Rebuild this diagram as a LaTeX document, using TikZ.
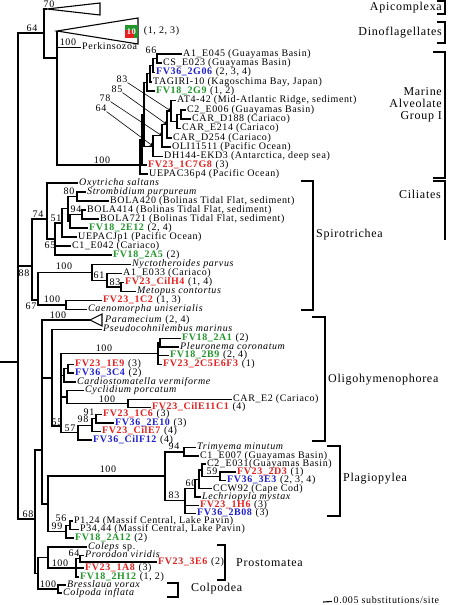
\documentclass[tikz,border=0pt]{standalone}
\usepackage{fontspec}
\setmainfont{Liberation Serif}[LetterSpace=6]
\usetikzlibrary{positioning}
\definecolor{fvred}{RGB}{228,32,32}
\definecolor{fvblue}{RGB}{32,32,210}
\definecolor{fvgreen}{RGB}{34,150,44}
\newcommand{\leaffont}{\fontsize{10}{10}\selectfont}
\newcommand{\grpfont}{\fontsize{12}{12}\selectfont}
\newcommand{\fvr}[1]{\textcolor{fvred}{\textbf{#1}}}
\newcommand{\fvb}[1]{\textcolor{fvblue}{\textbf{#1}}}
\newcommand{\fvg}[1]{\textcolor{fvgreen}{\textbf{#1}}}
\newcommand{\taxon}[1]{\textit{#1}}

\begin{document}
\begin{tikzpicture}[x=1pt,y=-1pt]
  \tikzset{
    br/.style={line width=1.1pt, every edge/.style={draw, line width=1.1pt, to path={|- (\tikztotarget)}}},
    leaf/.style={anchor=west, inner xsep=1.5pt, inner ysep=0pt, text height=6.5pt, text depth=2pt, font=\leaffont},
    bs/.style={inner sep=0pt, font=\leaffont},
    grp/.style={inner sep=0pt, font=\grpfont},
    clade/.style={line width=1.1pt},
    pointer/.style={->, >=stealth, line width=0.6pt}
  }
  \useasboundingbox (0,0) rectangle (448,605);

  % backbone and alveolates
  \coordinate (rootstub) at (0,362);
  \coordinate (nRoot) at (18,362);
  \coordinate (n64) at (44,33);
  \coordinate (apiA) at (47,9);
  \coordinate (apiT) at (100,3);
  \coordinate (apiB) at (100,15);
  \coordinate (nDPM) at (57,58);
  \coordinate (dinoA) at (57,31);
  \coordinate (dinoT) at (138,18);
  \coordinate (dinoB) at (138,44);
  \draw[clade] (apiA) -- (apiT) -- (apiB) -- cycle;
  \draw[clade] (dinoA) -- (dinoT) -- (dinoB) -- cycle;
  \fill[fvgreen] (125,25) rectangle (138,38);
  \fill[fvred] (125,30) rectangle (134,38);
  \node[inner sep=0pt, font=\fontsize{8.5}{8.5}\selectfont\bfseries, text=white] (dinobox) at (131.5,31.5) {10};
  \node[leaf] (dinoreps) [right=6pt of dinobox] {(1, 2, 3)};
  \node[leaf] (perk) at (80.5,47.5) {Perkinsozoa};

  % Marine Alveolate Group I
  \coordinate (m0) at (140,165);
  \coordinate (m1) at (142,139.6);
  \coordinate (nAB) at (144,114.3);
  \coordinate (nA4) at (147,82.4);
  \coordinate (nA3) at (150,73.8);
  \coordinate (nA2) at (153,65.5);
  \coordinate (nA1) at (157,58.5);
  \coordinate (nB6) at (153,146.1);
  \coordinate (nB5) at (162,135.8);
  \coordinate (nB4) at (167,124.5);
  \coordinate (nB3) at (171,111);
  \coordinate (nB2) at (177,121.5);
  \coordinate (nB1) at (181,114.5);
  \node[leaf] (a1e045) at (181.5,54) {A1\_E045 (Guayamas Basin)};
  \node[leaf] (cse023) at (161.5,63) {CS\_E023 (Guayamas Basin)};
  \node[leaf] (fv36g06) at (154.5,72.5) {\fvb{FV36\_2G06} (2, 3, 4)};
  \node[leaf] (tagiri) at (151.5,82) {TAGIRI-10 (Kagoschima Bay, Japan)};
  \node[leaf] (fv18g9) at (154.5,91) {\fvg{FV18\_2G9} (1, 2)};
  \node[leaf] (at442) at (175.5,100.5) {AT4-42 (Mid-Atlantic Ridge, sediment)};
  \node[leaf] (c2e006) at (185.5,110) {C2\_E006 (Guayamas Basin)};
  \node[leaf] (card188) at (190.5,119) {CAR\_D188 (Cariaco)};
  \node[leaf] (care214) at (180.5,128.5) {CAR\_E214 (Cariaco)};
  \node[leaf] (card254) at (171.5,138) {CAR\_D254 (Cariaco)};
  \node[leaf] (oli) at (170.5,147) {OLI11511 (Pacific Ocean)};
  \node[leaf] (dh144) at (162.5,156.5) {DH144-EKD3 (Antarctica, deep sea)};
  \node[leaf] (fv23c7) at (146.5,165) {\fvr{FV23\_1C7G8} (3)};
  \node[leaf] (uepac36) at (147.5,174) {UEPAC36p4 (Pacific Ocean)};

  % Spirotrichea and Armophorea
  \coordinate (n88) at (32,266);
  \coordinate (n74) at (47,219);
  \coordinate (n65) at (55,239);
  \coordinate (n51) at (62,223);
  \coordinate (nP) at (68,208.9);
  \coordinate (n80) at (77,196.5);
  \coordinate (nR) at (70,221.3);
  \coordinate (n94s) at (82,214.5);
  \coordinate (n67) at (38,300);
  \coordinate (n100a) at (92,272.3);
  \coordinate (n61) at (107,280.1);
  \coordinate (n83a) at (121,287);
  \coordinate (n100b) at (66,305);
  \node[leaf] (oxy) at (77.5,183) {\taxon{Oxytricha saltans}};
  \node[leaf] (strom) at (85.5,192) {\taxon{Strombidium purpureum}};
  \node[leaf] (bola420) at (108.5,201) {BOLA420 (Bolinas Tidal Flat, sediment)};
  \node[leaf] (bola414) at (85.5,210) {BOLA414 (Bolinas Tidal Flat, sediment)};
  \node[leaf] (bola721) at (98.5,219) {BOLA721 (Bolinas Tidal Flat, sediment)};
  \node[leaf] (fv18e12) at (87.5,228) {\fvg{FV18\_2E12} (2, 4)};
  \node[leaf] (uepacj) at (76.5,237) {UEPACJp1 (Pacific Ocean)};
  \node[leaf] (c1e042) at (70.5,246) {C1\_E042 (Cariaco)};
  \node[leaf] (fv18a5) at (111.5,255) {\fvg{FV18\_2A5} (2)};
  \node[leaf] (nyct) at (130.5,264.5) {\taxon{Nyctotheroides parvus}};
  \node[leaf] (a1e033) at (121.5,273.5) {A1\_E033 (Cariaco)};
  \node[leaf] (fv23h4) at (123.5,282.5) {\fvr{FV23\_CilH4} (1, 4)};
  \node[leaf] (metop) at (135.5,291.5) {\taxon{Metopus contortus}};
  \node[leaf] (fv23c2) at (101.5,300.5) {\fvr{FV23\_1C2} (1, 3)};
  \node[leaf] (caeno) at (86.5,309.5) {\taxon{Caenomorpha uniserialis}};

  % Oligohymenophorea
  \coordinate (n68) at (35,519);
  \coordinate (nOP) at (42,450);
  \coordinate (parA) at (90,320);
  \coordinate (parT) at (102,314);
  \coordinate (parB) at (102,326);
  \coordinate (nOlA) at (52,378);
  \coordinate (nOlB) at (61,426);
  \coordinate (n100d) at (158,353.6);
  \coordinate (nPl) at (160,342.8);
  \coordinate (nCar) at (64,375.4);
  \coordinate (nCar1) at (68,368.8);
  \coordinate (ncyc) at (67,397);
  \coordinate (n100c) at (128,403.5);
  \coordinate (n57) at (78,432.5);
  \coordinate (n98) at (92,425.3);
  \coordinate (n91) at (96,418.8);
  \draw[clade] (parA) -- (parT) -- (parB) -- cycle;
  \node[leaf] (param) at (103.5,320) {\taxon{Paramecium} (2, 4)};
  \node[leaf] (pseudo) at (101.5,329.5) {\taxon{Pseudocohnilembus marinus}};
  \node[leaf] (fv18a1) at (180.5,338.5) {\fvg{FV18\_2A1} (2)};
  \node[leaf] (pleuro) at (178.5,347) {\taxon{Pleuronema coronatum}};
  \node[leaf] (fv18b9) at (168.5,355.5) {\fvg{FV18\_2B9} (2, 4)};
  \node[leaf] (fv23c5) at (161.5,364.5) {\fvr{FV23\_2C5E6F3} (1)};
  \node[leaf] (fv23e9) at (73.5,364.5) {\fvr{FV23\_1E9} (3)};
  \node[leaf] (fv36c4) at (73.5,373) {\fvb{FV36\_3C4} (2)};
  \node[leaf] (cardio) at (75.5,382) {\taxon{Cardiostomatella vermiforme}};
  \node[leaf] (cycl) at (83.5,390.5) {\taxon{Cyclidium porcatum}};
  \node[leaf] (care2) at (231.5,399.5) {CAR\_E2 (Cariaco)};
  \node[leaf] (fv23e11) at (150.5,407.5) {\fvr{FV23\_CilE11C1} (4)};
  \node[leaf] (fv23c6) at (101.5,414.5) {\fvr{FV23\_1C6} (3)};
  \node[leaf] (fv36e10) at (113.5,423) {\fvb{FV36\_2E10} (3)};
  \node[leaf] (fv23e7) at (100.5,431.5) {\fvr{FV23\_CilE7} (4)};
  \node[leaf] (fv36f12) at (91.5,440) {\fvb{FV36\_CilF12} (4)};

  % Plagiopylea, Prostomatea, Colpodea
  \coordinate (nPP) at (48,504);
  \coordinate (nPlag) at (165,476);
  \coordinate (n94p) at (184,452);
  \coordinate (n83p) at (185,500.6);
  \coordinate (n60) at (195,488.2);
  \coordinate (nCC) at (199,479.4);
  \coordinate (nC2) at (202,470);
  \coordinate (n59) at (220,476.3);
  \coordinate (n99) at (66,531.6);
  \coordinate (n56) at (70,525.3);
  \coordinate (nBot) at (38,573.3);
  \coordinate (nPro) at (48,557.5);
  \coordinate (n100p) at (76,568);
  \coordinate (n64p) at (80,558.8);
  \coordinate (nCol) at (58,589);
  \node[leaf] (trim) at (195.5,447.5) {\taxon{Trimyema minutum}};
  \node[leaf] (c1e007) at (198.5,456) {C1\_E007 (Guayamas Basin)};
  \node[leaf] (c2e031) at (205.5,464) {C2\_E031(Guayamas Basin)};
  \node[leaf] (fv23d3) at (235.5,472) {\fvr{FV23\_2D3} (1)};
  \node[leaf] (fv36e3) at (225.5,480.5) {\fvb{FV36\_3E3} (2, 3, 4)};
  \node[leaf] (ccw92) at (211.5,488.8) {CCW92 (Cape Cod)};
  \node[leaf] (lechr) at (200.5,497) {\taxon{Lechriopyla mystax}};
  \node[leaf] (fv23h6) at (198.5,505.2) {\fvr{FV23\_1H6} (3)};
  \node[leaf] (fv36b08) at (195.5,513.5) {\fvb{FV36\_2B08} (3)};
  \node[leaf] (p124) at (72.5,521) {P1,24 (Massif Central, Lake Pavin)};
  \node[leaf] (p3444) at (78.5,529.5) {P34,44 (Massif Central, Lake Pavin)};
  \node[leaf] (fv18a12) at (73.5,538) {\fvg{FV18\_2A12} (2)};
  \node[leaf] (coleps) at (86.5,547) {\taxon{Coleps} sp.};
  \node[leaf] (proro) at (83.5,555.5) {\taxon{Prorodon viridis}};
  \node[leaf] (fv23e6) at (156.5,562) {\fvr{FV23\_3E6} (2)};
  \node[leaf] (fv23a8) at (83.5,568) {\fvr{FV23\_1A8} (3)};
  \node[leaf] (fv18h12) at (78.5,577) {\fvg{FV18\_2H12} (1, 2)};
  \node[leaf] (bress) at (65.5,585) {\taxon{Bresslaua vorax}};
  \node[leaf] (colpo) at (61.5,593) {\taxon{Colpoda inflata}};

  % branches
  \path[br]
    (rootstub) edge (nRoot)
    (nRoot) edge (n64) edge (n88) edge (n68)
    (n64) edge (apiA) edge (nDPM)
    (nDPM) edge (dinoA) edge (perk) edge (m0)
    (m0) edge (m1) edge (uepac36)
    (m1) edge (nAB) edge (fv23c7)
    (nAB) edge (nA4) edge (nB6)
    (nA4) edge (nA3) edge (fv18g9)
    (nA3) edge (nA2) edge (tagiri)
    (nA2) edge (nA1) edge (fv36g06)
    (nA1) edge (a1e045) edge (cse023)
    (nB6) edge (nB5) edge (dh144)
    (nB5) edge (nB4) edge (oli)
    (nB4) edge (nB3) edge (card254)
    (nB3) edge (at442) edge (nB2)
    (nB2) edge (nB1) edge (care214)
    (nB1) edge (c2e006) edge (card188)
    (n88) edge (n74) edge (n67)
    (n74) edge (oxy) edge (n65)
    (n65) edge (n51) edge (c1e042) edge (fv18a5)
    (n51) edge (nP) edge (uepacj)
    (nP) edge (n80) edge (nR)
    (n80) edge (strom) edge (bola420)
    (nR) edge (n94s) edge (fv18e12)
    (n94s) edge (bola414) edge (bola721)
    (n67) edge (n100a) edge (n100b)
    (n100a) edge (nyct) edge (n61)
    (n61) edge (a1e033) edge (n83a)
    (n83a) edge (fv23h4) edge (metop)
    (n100b) edge (fv23c2) edge (caeno)
    (n68) edge (nOP) edge (nBot)
    (nOP) edge (parA) edge (nOlA) edge (nPP)
    (nOlA) edge (pseudo) edge (nOlB)
    (nOlB) edge (n100d) edge (nCar) edge (ncyc) edge (n57)
    (n100d) edge (nPl) edge (fv18b9) edge (fv23c5)
    (nPl) edge (fv18a1) edge (pleuro)
    (nCar) edge (nCar1) edge (cardio)
    (nCar1) edge (fv23e9) edge (fv36c4)
    (ncyc) edge (cycl) edge (n100c)
    (n100c) edge (care2) edge (fv23e11)
    (n57) edge (n98) edge (fv36f12)
    (n98) edge (n91) edge (fv23e7)
    (n91) edge (fv23c6) edge (fv36e10)
    (nPP) edge (nPlag) edge (n99)
    (nPlag) edge (n94p) edge (n83p)
    (n94p) edge (trim) edge (c1e007)
    (n83p) edge (n60) edge (fv23h6) edge (fv36b08)
    (n60) edge (nCC) edge (lechr)
    (nCC) edge (nC2) edge (ccw92)
    (nC2) edge (c2e031) edge (n59)
    (n59) edge (fv23d3) edge (fv36e3)
    (n99) edge (n56) edge (fv18a12)
    (n56) edge (p124) edge (p3444)
    (nBot) edge (nPro) edge (nCol)
    (nPro) edge (coleps) edge (n100p)
    (n100p) edge (n64p) edge (fv23a8) edge (fv18h12)
    (n64p) edge (proro) edge (fv23e6)
    (nCol) edge (bress) edge (colpo)
  ;

  % bootstrap values
  \node[bs] (b70) at (49,4) {70};
  \node[bs] (b64a) at (32,28) {64};
  \node[bs] (b100perk) at (68,42) {100};
  \node[bs] (b66) at (151,50) {66};
  \node[bs] (b83m) at (122,79) {83};
  \node[bs] (b85) at (117,89) {85};
  \node[bs] (b78) at (105,98) {78};
  \node[bs] (b64m) at (101,108) {64};
  \node[bs] (b100magi) at (102,160) {100};
  \node[bs] (b74) at (38,214) {74};
  \node[bs] (b80) at (69,191) {80};
  \node[bs] (b94s) at (76,209) {94};
  \node[bs] (b51) at (56,218.5) {51};
  \node[bs] (b65) at (50,245) {65};
  \node[bs] (b88) at (24,273) {88};
  \node[bs] (b100ny) at (64,266) {100};
  \node[bs] (b61) at (99,275) {61};
  \node[bs] (b83a) at (115,282) {83};
  \node[bs] (b100cae) at (52,299) {100};
  \node[bs] (b67) at (31,306) {67};
  \node[bs] (b100par) at (58,315) {100};
  \node[bs] (b100ple) at (104,348) {100};
  \node[bs] (b100car) at (107,399) {100};
  \node[bs] (b91) at (89,412.5) {91};
  \node[bs] (b98) at (83,419.5) {98};
  \node[bs] (b57) at (70,428) {57};
  \node[bs] (b55) at (57,422) {55};
  \node[bs] (b94p) at (174,446.5) {94};
  \node[bs] (b100pla) at (108,469.5) {100};
  \node[bs] (b59) at (212,471.5) {59};
  \node[bs] (b60) at (191,483.5) {60};
  \node[bs] (b83p) at (174,495.5) {83};
  \node[bs] (b68) at (28,514) {68};
  \node[bs] (b56) at (61,518) {56};
  \node[bs] (b99) at (57,526.5) {99};
  \node[bs] (b64p) at (74,553.5) {64};
  \node[bs] (b100pro) at (60,563) {100};
  \node[bs] (b100col) at (48,584) {100};

  \draw[pointer] (b83m.south east) -- (nB3);
  \draw[pointer] (b85.south east) -- (nB4);
  \draw[pointer] (b78.south east) -- (nB5);
  \draw[pointer] (b64m.south east) -- (nB6);

  % group brackets
  \draw[clade] (437,1) -| (445,14) -- (437,14);
  \node[grp, anchor=east] (apic) at (442,7.5) {Apicomplexa};
  \draw[clade] (437,22) -| (445,43) -- (437,43);
  \node[grp, anchor=east] (dino) at (442,32.5) {Dinoflagellates};
  \draw[clade] (433,52) -| (445,178) -- (433,178);
  \node[grp, anchor=east, align=right, font=\fontsize{12}{12}\selectfont] (magi) at (442,105) {Marine\\Alveolate\\Group I};
  \draw[clade] (433,181) -| (445,240);
  \node[grp, anchor=east] (cil) at (441,194) {Ciliates};
  \draw[clade] (301,181) -| (313,310) -- (301,310);
  \node[grp, anchor=west] (spiro) at (316,235) {Spirotrichea};
  \draw[clade] (312,317) -| (325,441) -- (312,441);
  \node[grp, anchor=west] (oligo) at (328,380) {Oligohymenophorea};
  \draw[clade] (327,446) -| (340,516) -- (327,516);
  \node[grp, anchor=west] (plagio) at (343,479) {Plagiopylea};
  \draw[clade] (217,545) -| (225,580) -- (217,580);
  \node[grp, anchor=west] (prosto) at (236,563) {Prostomatea};
  \draw[clade] (167,583) -| (178,597) -- (167,597);
  \node[grp, anchor=west] (colpod) at (191,589) {Colpodea};

  % scale bar
  \coordinate (sb) at (323,602);
  \node[leaf] (scale) at (332,601.5) {0.005 substitutions/site};
  \draw[clade] (sb) -- (scale.west);
\end{tikzpicture}
\end{document}
